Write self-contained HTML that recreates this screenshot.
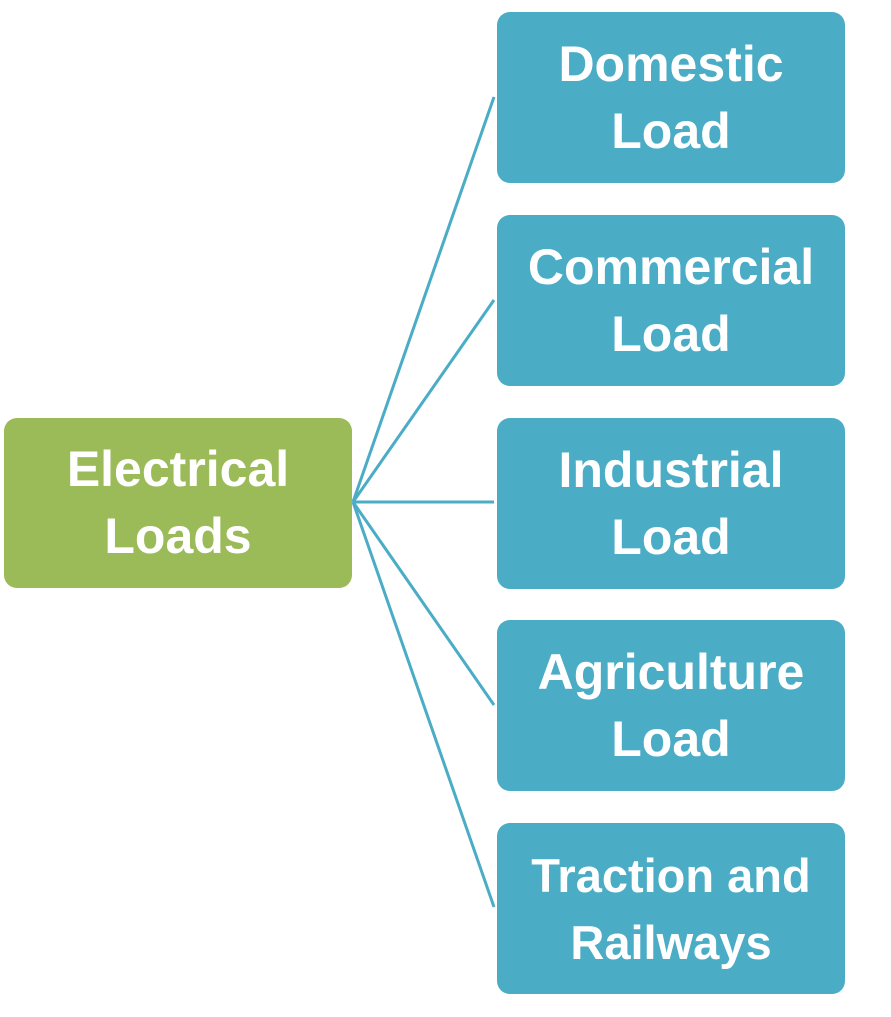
<!DOCTYPE html>
<html><head><style>
html,body{margin:0;padding:0;background:#fff;}
body{width:891px;height:1017px;position:relative;overflow:hidden;font-family:"Liberation Sans",sans-serif;}
.b{position:absolute;border-radius:13px;color:#fff;font-weight:bold;font-size:50px;line-height:67px;display:flex;align-items:center;justify-content:center;text-align:center;white-space:nowrap;}
.r{left:497px;width:348px;height:171px;background:#4BACC6;}
.g{left:4px;top:418px;width:348px;height:170px;background:#9BBB59;}
svg{position:absolute;left:0;top:0;}
</style></head><body>
<svg width="891" height="1017"><g stroke="#4BACC6" stroke-width="3" fill="none">
<line x1="353" y1="502" x2="494" y2="97"/>
<line x1="353" y1="502" x2="494" y2="300"/>
<line x1="353" y1="502" x2="494" y2="502"/>
<line x1="353" y1="502" x2="494" y2="705"/>
<line x1="353" y1="502" x2="494" y2="907"/>
</g></svg>
<div class="b g">Electrical<br>Loads</div>
<div class="b r" style="top:12px">Domestic<br>Load</div>
<div class="b r" style="top:215px">Commercial<br>Load</div>
<div class="b r" style="top:418px">Industrial<br>Load</div>
<div class="b r" style="top:620px">Agriculture<br>Load</div>
<div class="b r" style="top:823px;font-size:47px">Traction and<br>Railways</div>
</body></html>
